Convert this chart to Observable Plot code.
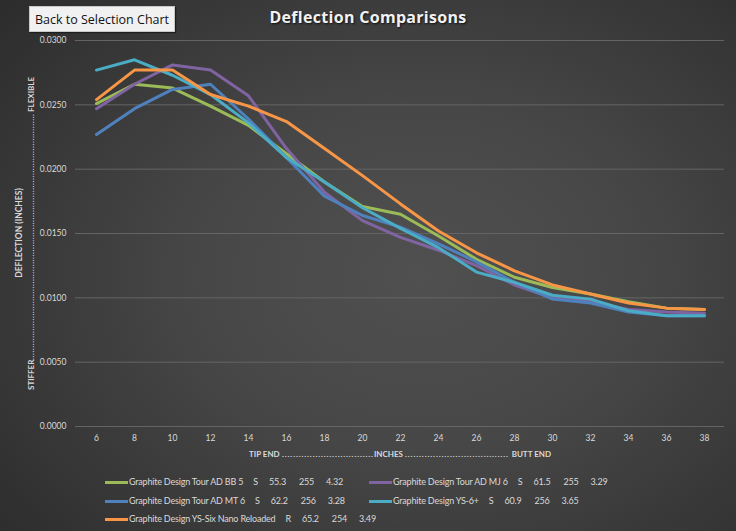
<!DOCTYPE html>
<html>
<head>
<meta charset="utf-8">
<script src="https://cdn.jsdelivr.net/npm/d3@7"></script>
<script src="https://cdn.jsdelivr.net/npm/@observablehq/plot@0.6"></script>
<style>
html, body { margin: 0; padding: 0; background: #2b2b2b; }
#wrap {
  position: relative; width: 736px; height: 531px; overflow: hidden;
  background: radial-gradient(ellipse 75% 80% at 57% 52%, #505050 0%, #474747 40%, #2c2c2c 100%);
  font-family: Lato, "Open Sans", sans-serif;
}
#chart { position: absolute; left: 0; top: 0; }
#btn {
  position: absolute; left: 29px; top: 6px; width: 146px; height: 26px; box-sizing: border-box;
  background: #f1f1f1; border: 1px solid #c8c8c8; box-shadow: 1px 1px 1px #1e1e1e;
  font: 12.5px "Open Sans", sans-serif; color: #111; display: flex; align-items: center; justify-content: center;
}
#title {
  position: absolute; left: 0; top: 6px; width: 736px; text-align: center;
  font: bold 16px "Open Sans", sans-serif; letter-spacing: 0.3px; color: #f2f2f2;
  text-shadow: 1px 1px 2px #111;
}
.leg { position: absolute; font: 9px Lato, sans-serif; letter-spacing: -0.2px; color: #d9d9d9; white-space: pre; height: 12px; line-height: 12px; display: flex; align-items: center; }
.leg i { display: inline-block; width: 23px; height: 3px; margin-right: 1px; }
</style>
</head>
<body>
<div id="wrap">
  <div id="chart"></div>
  <div id="btn">Back to Selection Chart</div>
  <div id="title">Deflection Comparisons</div>
  <div id="legend"></div>
</div>
<script>
// ---- data ----
const inches = [6, 8, 10, 12, 14, 16, 18, 20, 22, 24, 26, 28, 30, 32, 34, 36, 38];
const shaftNames = [
  "Graphite Design Tour AD BB 5",
  "Graphite Design Tour AD MJ 6",
  "Graphite Design Tour AD MT 6",
  "Graphite Design YS-6+",
  "Graphite Design YS-Six Nano Reloaded"
];
const shaftFlex   = ["S", "S", "S", "S", "R"];
const shaftWeight = ["55.3", "61.5", "62.2", "60.9", "65.2"];
const shaftCpm    = ["255", "255", "256", "256", "254"];
const shaftTorque = ["4.32", "3.29", "3.28", "3.65", "3.49"];
const bb5   = [0.0251, 0.0266, 0.0263, 0.0249, 0.0234, 0.0212, 0.0190, 0.0171, 0.0165, 0.0148, 0.0130, 0.0116, 0.0108, 0.0103, 0.0097, 0.0092, 0.0091];
const mj6   = [0.0247, 0.0266, 0.0281, 0.0277, 0.0257, 0.0216, 0.0182, 0.0160, 0.0147, 0.0137, 0.0125, 0.0110, 0.0100, 0.0097, 0.0091, 0.0089, 0.0088];
const mt6   = [0.0227, 0.0247, 0.0262, 0.0266, 0.0239, 0.0209, 0.0179, 0.0164, 0.0155, 0.0142, 0.0128, 0.0112, 0.0099, 0.0096, 0.0089, 0.0086, 0.0086];
const ys6   = [0.0277, 0.0285, 0.0273, 0.0258, 0.0236, 0.0209, 0.0190, 0.0170, 0.0154, 0.0139, 0.0120, 0.0112, 0.0102, 0.0099, 0.0090, 0.0086, 0.0086];
const nano  = [0.0254, 0.0277, 0.0277, 0.0258, 0.0249, 0.0237, 0.0216, 0.0195, 0.0173, 0.0152, 0.0135, 0.0121, 0.0110, 0.0103, 0.0096, 0.0092, 0.0091];
const yTicks = [0, 0.005, 0.01, 0.015, 0.02, 0.025, 0.03];
const xTitleParts = ["TIP END", "INCHES", " BUTT END"];
const yTitleParts = ["STIFFER", "FLEXIBLE"];
const yTitleMain = "DEFLECTION (INCHES)";
// styles
const seriesColors = ["#9bbb59", "#8064a2", "#4f81bd", "#4bacc6", "#f79646"];

const allSeries = [bb5, mj6, mt6, ys6, nano];
const rows = [];
allSeries.forEach((vals, i) => vals.forEach((v, j) => rows.push({name: shaftNames[i], x: inches[j], y: v})));

const plot = Plot.plot({
  width: 736, height: 465,
  marginTop: 40, marginLeft: 75, marginRight: 12, marginBottom: 39,
  style: {background: "transparent", color: "#d9d9d9", fontFamily: "Lato, sans-serif", fontSize: "8.5px", overflow: "visible"},
  x: {type: "point", domain: inches, padding: 0.5, label: null},
  y: {domain: [0, 0.03], label: null},
  color: {domain: shaftNames, range: seriesColors},
  marks: [
    Plot.gridY(yTicks, {stroke: "#646464", strokeOpacity: 1, strokeWidth: 1}),
    Plot.axisY(yTicks, {tickSize: 0, tickPadding: 9, tickFormat: d => d.toFixed(4), label: null}),
    Plot.axisX({tickSize: 0, tickPadding: 8, label: null}),
    Plot.line(rows, {x: "x", y: "y", z: "name", stroke: "name", strokeWidth: 3, strokeLinejoin: "round", strokeLinecap: "round"})
  ]
});
document.getElementById("chart").appendChild(plot);

const svg = d3.select(plot);
const titleText = (g) => g.attr("fill", "#d9d9d9").attr("font-weight", "bold").attr("font-size", "8px").attr("text-anchor", "start");

// y-axis titles (rotated)
svg.append("text")
  .attr("transform", "translate(19,233) rotate(-90)")
  .attr("dy", "0.35em")
  .call(titleText).attr("text-anchor", "middle").attr("font-size", "8.5px")
  .text(yTitleMain);
const yg = svg.append("g").attr("transform", "translate(31,0) rotate(-90)");
// in rotated frame: x = -pageY
yg.append("text").attr("x", -390).attr("dy", "0.35em").call(titleText).text(yTitleParts[0]);
yg.append("text").attr("x", -360).attr("dy", "0.35em").call(titleText)
  .attr("textLength", 246).attr("lengthAdjust", "spacing").text(".".repeat(100));
yg.append("text").attr("x", -112).attr("dy", "0.35em").call(titleText).text(yTitleParts[1]);

// x-axis title
const xy = 457;
svg.append("text").attr("x", 249).attr("y", xy).call(titleText).text(xTitleParts[0]);
svg.append("text").attr("x", 282).attr("y", xy).call(titleText)
  .attr("textLength", 91).attr("lengthAdjust", "spacing").text(".".repeat(33));
svg.append("text").attr("x", 374).attr("y", xy).call(titleText).text(xTitleParts[1]);
svg.append("text").attr("x", 405).attr("y", xy).call(titleText)
  .attr("textLength", 103).attr("lengthAdjust", "spacing").text(".".repeat(37));
svg.append("text").attr("x", 551).attr("y", xy).call(titleText).attr("text-anchor", "end").text(xTitleParts[2]);

// legend
const legPos = [[105, 476], [369, 476], [105, 495], [369, 495], [105, 513]];
const gaps = [10, 11, 13, 12];
const legend = document.getElementById("legend");
shaftNames.forEach((name, k) => {
  const d = document.createElement("div");
  d.className = "leg";
  d.style.left = legPos[k][0] + "px";
  d.style.top = legPos[k][1] + "px";
  const sw = document.createElement("i");
  sw.style.background = seriesColors[k];
  d.appendChild(sw);
  const parts = [name, shaftFlex[k], shaftWeight[k], shaftCpm[k], shaftTorque[k]];
  parts.forEach((p, m) => {
    const s = document.createElement("span");
    s.textContent = p;
    if (m > 0) s.style.marginLeft = gaps[m - 1] + "px";
    d.appendChild(s);
  });
  legend.appendChild(d);
});
</script>
</body>
</html>
